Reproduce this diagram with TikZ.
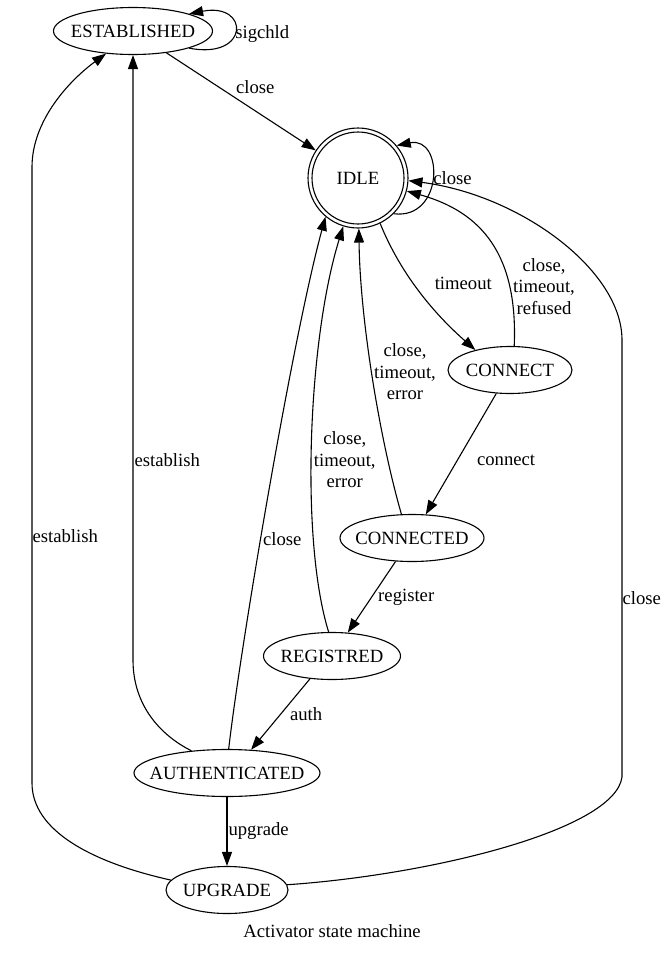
\documentclass[tikz,border=0pt]{standalone}
\usepackage{fontspec}
\setmainfont{Liberation Serif}
\usetikzlibrary{arrows.meta,shapes.geometric}

\tikzset{
  state/.style={draw, ellipse, line width=1.1pt, inner sep=0pt, minimum height=47pt},
  lbl/.style={inner sep=2pt, align=center},
  tr/.style={-{Triangle[length=14pt,width=10pt]}, line width=1.1pt},
}
\newcommand{\stname}[1]{\makebox[0pt]{#1}}

\begin{document}
\begin{tikzpicture}[x=1pt, y=-1pt, every node/.style={font=\fontsize{18.67}{21.3}\selectfont}]
\useasboundingbox (0,0) rectangle (667,954);

% states
\node[state, minimum width=159pt] (est) at (133,31) {\stname{ESTABLISHED}};
\node[draw, circle, line width=1.1pt, minimum size=100pt, inner sep=0pt] (idle) at (358,178) {IDLE};
\draw[line width=1.1pt] (idle.center) circle[radius=46pt];
\node[state, minimum width=124pt] (connect) at (510,370) {\stname{CONNECT}};
\node[state, minimum width=144pt] (connected) at (412,538) {\stname{CONNECTED}};
\node[state, minimum width=137pt] (registred) at (332,656) {\stname{REGISTRED}};
\node[state, minimum width=186pt] (auth) at (227,773) {\stname{AUTHENTICATED}};
\node[state, minimum width=122pt] (upgrade) at (227,890) {\stname{UPGRADE}};
\node (title) at (332,931) {Activator state machine};

% transitions
\draw[tr] (est.-17) .. controls (250,60) and (250,2) .. node[lbl, pos=0.5, right=-2pt, yshift=-3pt] {sigchld} (est.17);
\draw[tr] (est) -- node[lbl, pos=0.45, above right] {close} (idle);
\draw[tr] (idle.-45) .. controls (444,220) and (444,136) .. node[lbl, pos=0.5, right=-1pt] {close} (idle.40);
\draw[tr] (idle.-64) .. controls (405,285) and (447,325) .. node[lbl, pos=0.37, right=19pt] {timeout} (connect.150);
\draw[tr] (connect.80) .. controls (518,255) and (482,212) .. node[lbl, pos=0.25, right=1pt] {close,\\timeout,\\refused} (idle.-15);
\draw[tr] (connect) -- node[lbl, pos=0.55, right=17pt] {connect} (connected);
\draw[tr] (connected.114) .. controls (380,440) and (360,320) .. node[lbl, pos=0.52, right] {close,\\timeout,\\error} (idle.-89);
\draw[tr] (connected.-125) -- node[lbl, pos=0.5, right=4pt] {register} (registred.56);
\draw[tr] (registred.98) .. controls (300,540) and (308,340) .. node[lbl, pos=0.45, right] {close,\\timeout,\\error} (idle.-107);
\draw[tr] (registred.-134) -- node[lbl, pos=0.5, right=7pt] {auth} (auth.44);
\draw[tr] (auth.86) .. controls (240,650) and (292,340) .. node[lbl, pos=0.425, right] {close} (idle.-130);
\draw[tr] (auth.148) .. controls (160,735) and (133,705) .. (133,660) -- node[lbl, pos=0.33, right=-1pt] {establish} (est.south);
\draw[tr] (auth) -- node[lbl, pos=0.5, right=-1pt] {upgrade} (upgrade);
\draw[tr] (upgrade.170) .. controls (90,862) and (32,830) .. (32,783) -- node[lbl, pos=0.4, right=-2pt] {establish} (32,167) .. controls (32,120) and (70,80) .. (est.-140);
\draw[tr] (upgrade.5) .. controls (430,875) and (615,830) .. (622,777) -- node[lbl, pos=0.41, right=-2pt] {close} (622,340) .. controls (622,270) and (520,195) .. (idle.-3);
\end{tikzpicture}
\end{document}
